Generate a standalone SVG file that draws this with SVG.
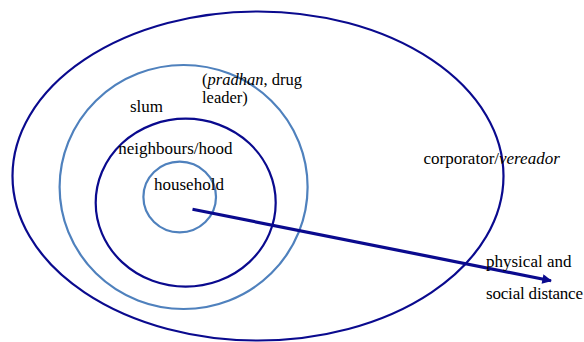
<svg xmlns="http://www.w3.org/2000/svg" width="584" height="342" viewBox="0 0 584 342">
<style>
.dark{fill:none;stroke:#0a0a8e;stroke-width:2.2}
.light{fill:none;stroke:#4f81bd;stroke-width:2.2}
text{font-family:"Liberation Serif","DejaVu Serif",serif;font-size:17px;fill:#000}
.it{font-style:italic}
.sm{font-size:16.5px}
</style>
<defs>
<marker id="ah" viewBox="0 0 10 10" refX="9" refY="5" markerWidth="3.4" markerHeight="3" orient="auto" markerUnits="strokeWidth">
<path d="M0,0 L10,5 L0,10 z" fill="#0a0a8e"/>
</marker>
</defs>
<rect width="584" height="342" fill="#fff"/>
<g id="corporator">
<ellipse class="dark" cx="258" cy="176" rx="245.5" ry="164.5"/>
<text x="423.5" y="164">corporator/<tspan class="it">vereador</tspan></text>
</g>
<g id="slum">
<ellipse class="light" cx="183.6" cy="187" rx="124" ry="122"/>
<text x="130" y="111.5">slum</text>
<text class="sm" x="202" y="84.8">(<tspan class="it">pradhan</tspan>, drug</text>
<text class="sm" x="202" y="103.4">leader)</text>
</g>
<g id="neighbours">
<ellipse class="dark" cx="185.7" cy="202.7" rx="90" ry="84"/>
<text x="118.3" y="154">neighbours/hood</text>
</g>
<g id="household">
<ellipse class="light" cx="179.7" cy="197" rx="36.3" ry="35.3"/>
<text x="154" y="190">household</text>
</g>
<g id="connectors">
<line x1="192.5" y1="209.3" x2="551" y2="280.7" stroke="#0a0a8e" stroke-width="3.2" marker-end="url(#ah)"/>
</g>
<g id="distance-label">
<text x="486" y="267">physical and</text>
<text x="486" y="298.5" textLength="97">social distance</text>
</g>
</svg>
